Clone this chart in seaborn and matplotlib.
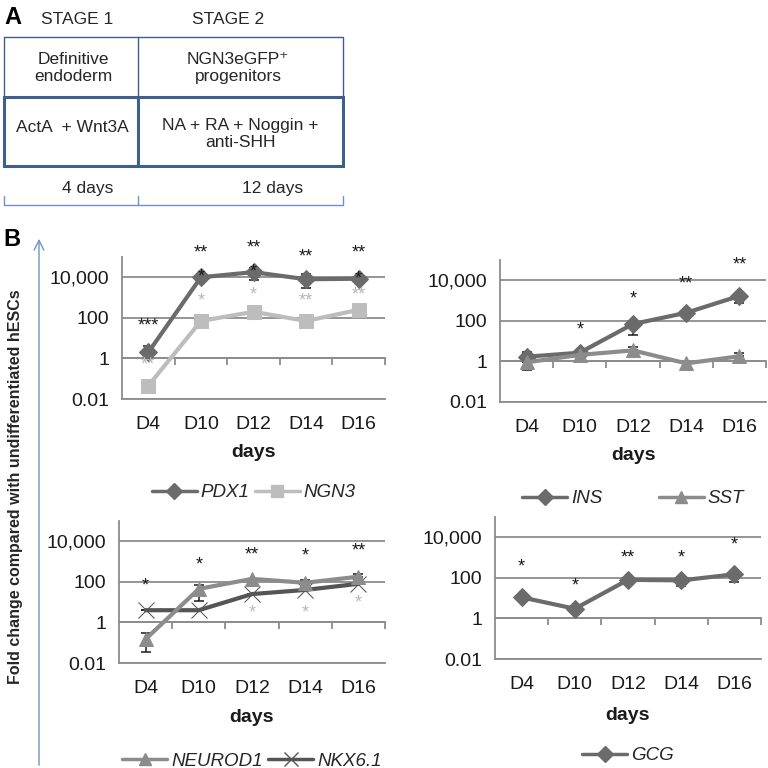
import matplotlib
matplotlib.use("Agg")
import matplotlib.pyplot as plt
from matplotlib.lines import Line2D
import seaborn as sns

days = ["D4", "D10", "D12", "D14", "D16"]

# top left: PDX1 / NGN3
pdx1 = [2, 10000, 18000, 8000, 8500]
pdx1_lo = [2, 10000, 7000, 2900, 8500]
pdx1_hi = [4, 10000, 30000, 14000, 8500]
ngn3 = [0.045, 70, 200, 70, 250]
ngn3_lo = [0.045, 70, 90, 70, 140]
ngn3_hi = [0.045, 70, 200, 70, 250]
pdx1_sig = ["***", "**", "**", "**", "**"]
pdx1_sig_y = [40, 1.6e5, 2.9e5, 1.05e5, 1.6e5]
pdx1_mark = ["", "*", "*", "", "*"]
ngn3_sig = ["**", "*", "*", "**", "**"]
ngn3_sig_y = [0.45, 680, 1400, 680, 1300]

# top right: INS / SST
ins = [1.7, 2.7, 70, 250, 1700]
ins_lo = [0.4, 2.7, 20, 250, 800]
ins_hi = [3, 2.7, 70, 250, 1700]
sst = [0.9, 2.1, 3.5, 0.8, 1.8]
sst_lo = [0.9, 2.1, 3.5, 0.8, 1.8]
sst_hi = [0.9, 2.1, 5, 0.8, 2.5]
ins_sig = ["", "*", "*", "**", "**"]
ins_sig_y = [1, 36, 1200, 6300, 60000]

# bottom left: NEUROD1 / NKX6.1
neurod1 = [0.15, 45, 140, 90, 180]
neurod1_lo = [0.035, 12, 140, 90, 180]
neurod1_hi = [0.3, 70, 140, 130, 250]
nkx61 = [4, 4, 25, 40, 80]
nkx61_lo = [4, 4, 25, 40, 80]
nkx61_hi = [4, 4, 25, 40, 80]
neurod1_sig = ["*", "*", "**", "*", "**"]
neurod1_sig_y = [63, 680, 2000, 1900, 3200]
nkx61_sig = ["", "", "*", "*", "*"]
nkx61_sig_y = [1, 1, 2.8, 2.8, 9.5]

# bottom right: GCG
gcg = [11, 3, 80, 75, 150]
gcg_lo = [8, 3, 55, 40, 60]
gcg_hi = [11, 3, 100, 75, 150]
gcg_sig = ["*", "*", "**", "*", "*"]
gcg_sig_y = [350, 40, 1000, 1000, 4000]

ytick_vals = [0.01, 1, 100, 10000]
ytick_labels = ["0.01", "1", "100", "10,000"]

sns.set_style("white")
plt.rcParams["font.family"] = ["Liberation Sans", "DejaVu Sans"]

GRAY = "#8c8c8c"
BLUE = "#3f5f8c"
LBLUE = "#6f93c8"
BLACK = "#1a1a1a"
LGRAY = "#b8b8b8"
FS = 14

fig = plt.figure(figsize=(7.68, 7.68), dpi=100)


def px_axes(left, top, right, bottom):
    return fig.add_axes([left / 768, 1 - bottom / 768, (right - left) / 768, (bottom - top) / 768])


def setup(ax, labelpad=8):
    pos = list(range(len(days)))
    ax.set_yscale("log")
    ax.set_ylim(0.01, 1e5)
    ax.set_xlim(-0.5, len(days) - 0.5)
    ax.set_yticks(ytick_vals)
    ax.set_yticklabels(ytick_labels)
    ax.minorticks_off()
    ax.set_xticks(pos)
    ax.set_xticklabels(days)
    ax.tick_params(axis="x", length=0, pad=12, labelsize=FS, labelcolor=BLACK)
    ax.tick_params(axis="y", direction="out", length=6, width=1.3, color=GRAY, labelsize=FS,
                   labelcolor=BLACK, pad=3)
    ax.yaxis.grid(True, color=GRAY, lw=1.3)
    ax.xaxis.grid(False)
    for s in ["top", "right"]:
        ax.spines[s].set_visible(False)
    for s in ["left", "bottom"]:
        ax.spines[s].set_color(GRAY)
        ax.spines[s].set_linewidth(1.3)
    ax.set_xlabel("days", fontsize=FS, fontweight="bold", labelpad=labelpad, color=BLACK)
    ax.set_ylabel("")
    # category axis crossing at 1
    sec = ax.secondary_xaxis(2 / 7)
    sec.set_xticks([p + 0.5 for p in pos])
    sec.set_xticklabels([""] * len(pos))
    sec.tick_params(direction="out", length=5, width=1.3, color=GRAY)
    for s in sec.spines.values():
        s.set_color(GRAY)
        s.set_linewidth(1.3)


def series(ax, vals, lo, hi, color, marker, ms, lw=3):
    pos = list(range(len(vals)))
    sns.lineplot(x=pos, y=vals, color=color, marker=marker, markersize=ms,
                 markeredgecolor=color, lw=lw, ax=ax, zorder=3, errorbar=None)
    ax.errorbar(pos, vals, yerr=[[v - l for v, l in zip(vals, lo)], [h - v for v, h in zip(vals, hi)]],
                fmt="none", ecolor=BLACK, elinewidth=1.1, capsize=3.5, capthick=1.1, zorder=2)


def stars(ax, labels, ys, color):
    for i, (s, y) in enumerate(zip(labels, ys)):
        if s:
            ax.text(i, y, s, ha="center", va="center", fontsize=13, color=color, clip_on=False, zorder=5)


def legend(ax, items, y, spacing=1.0):
    handles = [Line2D([], [], color=c, marker=m, markersize=ms, markeredgecolor=c, lw=2.5, label=l)
               for l, c, m, ms in items]
    ax.legend(handles=handles, loc="center", bbox_to_anchor=(0.5, y), ncol=len(handles), frameon=False,
              prop={"style": "italic", "size": 13.5}, handlelength=2.4, handletextpad=0.2,
              columnspacing=spacing)


# ---- top left
ax1 = px_axes(122, 257, 385, 399)
setup(ax1)
series(ax1, ngn3, ngn3_lo, ngn3_hi, "#bdbdbd", "s", 10.5)
series(ax1, pdx1, pdx1_lo, pdx1_hi, "#6b6b6b", "D", 9.5)
stars(ax1, pdx1_sig, pdx1_sig_y, BLACK)
stars(ax1, pdx1_mark, pdx1, BLACK)
stars(ax1, ngn3_sig, ngn3_sig_y, LGRAY)
legend(ax1, [("PDX1", "#6b6b6b", "D", 8), ("NGN3", "#bdbdbd", "s", 9)], -0.66, 0.3)

# ---- top right
ax2 = px_axes(500, 260, 766, 402)
setup(ax2)
series(ax2, ins, ins_lo, ins_hi, "#6b6b6b", "D", 9.5)
series(ax2, sst, sst_lo, sst_hi, "#8c8c8c", "^", 10.5)
stars(ax2, ins_sig, ins_sig_y, BLACK)
legend(ax2, [("INS", "#6b6b6b", "D", 8), ("SST", "#8c8c8c", "^", 9)], -0.68, 3.0)

# ---- bottom left
ax3 = px_axes(119, 521, 385, 663)
setup(ax3, labelpad=9)
series(ax3, nkx61, nkx61_lo, nkx61_hi, "#555555", "x", 11)
series(ax3, neurod1, neurod1_lo, neurod1_hi, "#8c8c8c", "^", 10.5)
stars(ax3, neurod1_sig, neurod1_sig_y, BLACK)
stars(ax3, nkx61_sig, nkx61_sig_y, LGRAY)
legend(ax3, [("NEUROD1", "#8c8c8c", "^", 9), ("NKX6.1", "#555555", "x", 10)], -0.69, 0.3)

# ---- bottom right
ax4 = px_axes(495, 517, 761, 659)
setup(ax4, labelpad=10)
series(ax4, gcg, gcg_lo, gcg_hi, "#6b6b6b", "D", 9.5)
stars(ax4, gcg_sig, gcg_sig_y, BLACK)
legend(ax4, [("GCG", "#6b6b6b", "D", 8)], -0.68)

# ---- overlay: panel A scheme, panel B decorations
ov = fig.add_axes([0, 0, 1, 1], zorder=-1)
ov.set_xlim(0, 768)
ov.set_ylim(768, 0)
ov.axis("off")

FA = 12.5
ov.text(4, 18, "A", fontsize=17, fontweight="bold", va="center", ha="left", color="black")
ov.text(77, 19, "STAGE 1", fontsize=FA, ha="center", va="center")
ov.text(228, 19, "STAGE 2", fontsize=FA, ha="center", va="center")

ov.plot([4, 343, 343, 4, 4], [97, 97, 37, 37, 97], color=BLUE, lw=1.0)
ov.plot([138, 138], [37, 97], color=BLUE, lw=1.0)
ov.plot([4, 343, 343, 4, 4], [166, 166, 97, 97, 166], color=BLUE, lw=2.2, solid_joinstyle="miter")
ov.plot([138, 138], [97, 166], color=BLUE, lw=2.2)

ov.text(73, 68, "Definitive\nendoderm", fontsize=FA, ha="center", va="center", linespacing=1.1)
ov.text(238, 68, "NGN3eGFP\u207a\nprogenitors", fontsize=FA, ha="center", va="center", linespacing=1.1)
ov.text(72, 128, "ActA  + Wnt3A", fontsize=FA, ha="center", va="center")
ov.text(240, 134, "NA + RA + Noggin +\nanti-SHH", fontsize=FA, ha="center", va="center",
        linespacing=1.1)

ov.plot([4, 4, 343, 343], [196, 205, 205, 196], color=LBLUE, lw=1.0)
ov.plot([138, 138], [196, 205], color=LBLUE, lw=1.0)
ov.text(88, 188, "4 days", fontsize=FA, ha="center", va="center")
ov.text(273, 188, "12 days", fontsize=FA, ha="center", va="center")

ov.text(3, 240, "B", fontsize=17, fontweight="bold", va="center", ha="left", color="black")
ov.annotate("", xy=(39, 236), xytext=(39, 768),
            arrowprops=dict(arrowstyle="->,head_length=0.7,head_width=0.35", color=LBLUE, lw=1.0))
ov.text(16, 487, "Fold change compared with undifferentiated hESCs", rotation=90, fontsize=11.5,
        fontweight="bold", ha="center", va="center")

fig.savefig("out.png", dpi=100)
